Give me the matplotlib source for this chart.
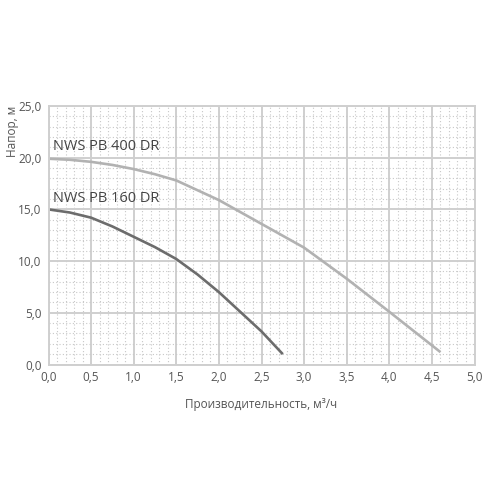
import matplotlib
matplotlib.use("Agg")
import matplotlib.pyplot as plt
from matplotlib.ticker import MultipleLocator, FuncFormatter

plt.rcParams['font.family'] = ['Open Sans', 'DejaVu Sans']

# Data
q_400 = [0.0, 0.25, 0.5, 0.75, 1.0, 1.25, 1.5, 2.0, 2.5, 3.0, 3.5, 4.0, 4.6]
h_400 = [19.9, 19.8, 19.6, 19.3, 18.9, 18.4, 17.8, 15.9, 13.6, 11.3, 8.3, 5.1, 1.2]

q_160 = [0.0, 0.25, 0.5, 0.75, 1.0, 1.25, 1.5, 1.75, 2.0, 2.25, 2.5, 2.75]
h_160 = [15.0, 14.7, 14.2, 13.35, 12.35, 11.35, 10.2, 8.7, 7.0, 5.1, 3.2, 1.0]

label_400 = "NWS PB 400 DR"
label_160 = "NWS PB 160 DR"
xlabel = "Производительность, м³/ч"
ylabel = "Напор, м"

fig = plt.figure(figsize=(5, 5), dpi=100)
ax = fig.add_axes([0.097, 0.271, 0.852, 0.517])

ax.set_xlim(0, 5)
ax.set_ylim(0, 25)
ax.xaxis.set_major_locator(MultipleLocator(0.5))
ax.yaxis.set_major_locator(MultipleLocator(5))
ax.xaxis.set_minor_locator(MultipleLocator(0.1))
ax.yaxis.set_minor_locator(MultipleLocator(1))
fmt = FuncFormatter(lambda v, p: f"{v:.1f}".replace(".", ","))
ax.xaxis.set_major_formatter(fmt)
ax.yaxis.set_major_formatter(fmt)

ax.grid(which='major', color='#cfcfcf', linewidth=1.4, linestyle='-')
ax.grid(which='minor', color='#c8c8c8', linewidth=0.8, linestyle=(0, (1, 2)))
ax.set_axisbelow(True)
for s in ax.spines.values():
    s.set_color('#cfcfcf')
    s.set_linewidth(1.4)

ax.tick_params(which='both', length=0, labelsize=8.5, labelcolor='#555555', pad=5)

ax.plot(q_400, h_400, color='#b2b2b2', linewidth=1.9, solid_capstyle='butt',
        solid_joinstyle='round')
ax.plot(q_160, h_160, color='#6c6c6c', linewidth=1.9, solid_capstyle='butt',
        solid_joinstyle='round')

ax.text(0.05, 21.1, label_400, fontsize=10.5, color='#444444', va='center', ha='left')
ax.text(0.05, 16.1, label_160, fontsize=10.5, color='#444444', va='center', ha='left')

ax.set_xlabel(xlabel, fontsize=8.5, color='#555555', labelpad=10)
fig.text(0.025, 0.788, ylabel, rotation=90, fontsize=8.5, color='#555555', ha='center', va='top')

fig.savefig("out.png", dpi=100, facecolor='white')
